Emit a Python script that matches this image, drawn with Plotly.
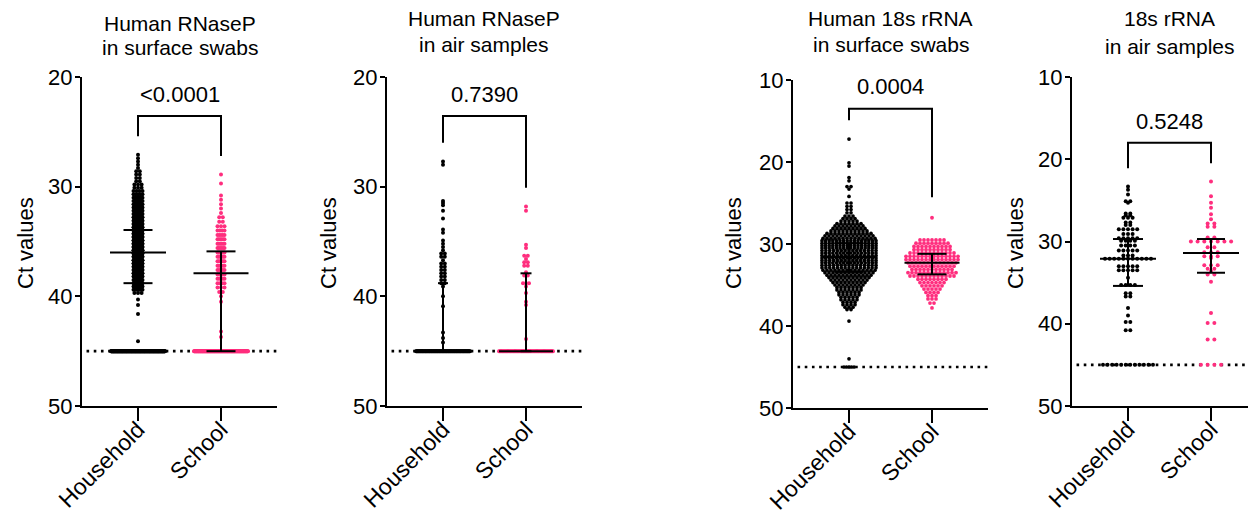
import plotly.graph_objects as go

# ---------------- data ----------------
groups = ["Household", "School"]

titles = ["Human RNaseP<br>in surface swabs", "Human RNaseP<br>in air samples",
          "Human 18s rRNA<br>in surface swabs", "18s rRNA<br>in air samples"]
p_values = ["<0.0001", "0.7390", "0.0004", "0.5248"]

# Panel 1: RNaseP, surface swabs  (Ct value rows and number of dots per row)
p1_household_ct = [27.1, 27.4, 27.7, 28.0, 28.3, 28.6, 28.9, 29.2, 29.5, 29.8, 30.1, 30.4, 30.7, 31.0,
                   31.3, 31.6, 31.9, 32.2, 32.5, 32.8, 33.1, 33.4, 33.7, 34.0, 34.3, 34.6, 34.9, 35.2,
                   35.5, 35.8, 36.1, 36.4, 36.7, 37.0, 37.3, 37.6, 37.9, 38.2, 38.5, 38.8, 39.1, 39.4,
                   39.7, 40.3, 40.8, 41.6, 44.1, 45.0]
p1_household_n = [1, 1, 1, 1, 1, 2, 2, 2, 2, 3, 3, 4, 5, 6,
                  8, 10, 12, 16, 20, 24, 28, 32, 36, 40, 44, 46, 48, 50,
                  50, 48, 46, 44, 42, 38, 34, 30, 26, 22, 18, 14, 10, 6,
                  3, 1, 1, 1, 1, 220]
p1_school_ct = [28.9, 29.7, 30.8, 31.2, 31.6, 32.0, 32.4, 32.8, 33.2, 33.6, 34.0, 34.4, 34.8, 35.2,
                35.6, 36.0, 36.4, 36.8, 37.2, 37.6, 38.0, 38.4, 38.8, 39.2, 39.6, 40.0, 40.5, 43.2,
                43.7, 45.0]
p1_school_n = [1, 1, 1, 1, 1, 1, 1, 2, 2, 3, 4, 5, 6, 6,
               6, 6, 6, 6, 6, 5, 5, 5, 4, 3, 2, 1, 1, 1,
               1, 150]

# Panel 2: RNaseP, air samples
p2_household_ct = [27.7, 28.0, 31.3, 31.5, 31.7, 32.2, 32.9, 33.9, 34.2, 34.9, 35.2, 35.5, 35.8, 36.1,
                   36.4, 36.7, 37.0, 37.3, 37.6, 37.9, 38.2, 38.5, 38.8, 39.1, 40.0, 40.9, 43.3, 43.8,
                   44.2, 45.0]
p2_household_n = [1, 1, 1, 1, 1, 1, 1, 1, 1, 1, 1, 1, 1, 2,
                  2, 1, 2, 2, 2, 2, 2, 2, 2, 1, 1, 1, 1, 1,
                  1, 90]
p2_school_ct = [31.8, 32.2, 35.3, 35.6, 36.3, 36.6, 36.9, 37.2, 37.8, 38.1, 38.8, 39.1, 39.7, 40.5,
                40.8, 43.9, 45.0]
p2_school_n = [1, 1, 1, 1, 2, 1, 2, 2, 1, 2, 3, 1, 1, 1,
               1, 1, 60]

# Panel 3: 18s rRNA, surface swabs
p3_household_ct = [17.2, 20.1, 20.5, 21.9, 22.3, 23.0, 23.3, 24.2, 25.0, 25.4, 25.8, 26.2, 26.6, 26.9,
                   27.2, 27.5, 27.8, 28.1, 28.4, 28.7, 29.0, 29.3, 29.6, 29.9, 30.2, 30.5, 30.8, 31.1,
                   31.4, 31.7, 32.0, 32.3, 32.6, 32.9, 33.2, 33.5, 33.8, 34.1, 34.4, 34.7, 35.0, 35.3,
                   35.6, 35.9, 36.2, 36.5, 36.8, 37.1, 37.4, 37.7, 38.0, 39.4, 44.0, 45.0]
p3_household_n = [1, 1, 1, 1, 1, 2, 1, 1, 2, 2, 2, 2, 3, 4,
                  5, 7, 8, 9, 10, 12, 13, 14, 16, 16, 16, 16, 15, 16,
                  15, 16, 15, 16, 15, 15, 14, 13, 12, 11, 10, 9, 8, 7,
                  7, 6, 6, 5, 5, 4, 4, 3, 2, 1, 1, 5]
p3_school_ct = [26.8, 29.5, 29.9, 30.3, 30.7, 31.1, 31.5, 31.9, 32.3, 32.7, 33.1, 33.5, 33.9, 34.3,
                34.7, 35.1, 35.5, 35.9, 36.3, 36.7, 37.2, 37.8]
p3_school_n = [1, 7, 9, 10, 10, 12, 14, 14, 13, 12, 11, 13, 12, 8,
               7, 6, 5, 4, 3, 3, 2, 1]

# Panel 4: 18s rRNA, air samples
p4_household_ct = [23.3, 23.7, 24.3, 25.1, 25.3, 26.6, 26.8, 27.1, 27.7, 28.0, 28.5, 29.1, 29.6, 29.9,
                   30.5, 31.1, 31.7, 32.1, 33.0, 33.5, 34.4, 35.3, 36.3, 36.7, 38.1, 39.0, 39.8, 40.8,
                   45.0]
p4_household_n = [1, 1, 1, 2, 1, 2, 2, 3, 2, 2, 5, 3, 5, 4,
                  4, 5, 3, 11, 5, 5, 1, 4, 2, 2, 1, 1, 2, 2,
                  12]
p4_school_ct = [22.7, 24.5, 25.3, 25.9, 26.7, 27.3, 27.8, 28.2, 29.5, 30.0, 30.7, 31.3, 31.8, 32.0,
                32.9, 33.3, 33.6, 34.0, 34.9, 38.7, 39.9, 41.9, 45.0]
p4_school_n = [1, 1, 1, 1, 1, 1, 2, 2, 2, 7, 2, 3, 3, 1,
               3, 2, 1, 2, 1, 1, 2, 2, 4]

# median and interquartile range lines (Ct), [household, school] per panel
median_ct = [[36.0, 37.9], [45.0, 45.0], [31.6, 32.3], [32.1, 31.4]]
q_upper_ct = [[33.95, 35.9], [38.8, 37.9], [29.9, 31.2], [29.7, 29.7]]
q_lower_ct = [[38.8, 45.0], [45.0, 45.0], [33.4, 33.7], [35.4, 33.8]]

# significance brackets: (top, household leg end, school leg end), p-label Ct
bracket_ct = [[23.55, 25.4, 27.2], [23.55, 26.0, 30.1], [13.5, 14.9, 24.3], [18.0, 21.1, 20.5]]
p_label_ct = [21.55, 21.55, 10.85, 15.35]

limit_ct = 45.0  # limit of detection (dotted line)
y_ticks = [[20, 30, 40, 50], [20, 30, 40, 50], [10, 20, 30, 40, 50], [10, 20, 30, 40, 50]]

# ---------------- styling / layout ----------------
W, H = 1256, 521          # browser window
OFF = 8                   # default page margin around the plot div
FW, FH = W - OFF, H - OFF  # figure size
PX_PER_UNIT = 83.0
BLACK = "#000000"
PINK = "#ff2e7e"
FONT = "Liberation Sans, Arial, Helvetica, sans-serif"


def px_x(px):
    return (px - OFF) / FW


def px_y(py):
    return 1 - (py - OFF) / FH


# pixel geometry (window pixels) of each panel: x0, x1 (axis line), y_top, y_bottom
panel_px = [(82, 277, 77, 406), (387, 582, 77, 406), (793, 988, 80, 408), (1072, 1256, 77, 406)]
y_top = [20, 20, 10, 10]
title_line_px = [(23.5, 47.5), (19, 44), (19, 44), (19, 46)]
ct_label_x_px = [26, 329, 734, 1016]

# per group swarm style: (dot spacing px, max half width px, floor half width px, dot size)
swarm_style = [
    [(3.6, 4.5, 27.0, 4), (3.6, 3.5, 27.0, 4)],
    [(3.6, 3.0, 27.0, 4), (3.6, 3.0, 27.0, 4)],
    [(4.0, 27.0, 5.0, 3.7), (4.0, 27.0, 27.0, 3.8)],
    [(4.6, 30.0, 25.0, 4), (6.7, 30.0, 27.0, 4)],
]
cap_half_px = [[14.5, 14.5], [5.0, 5.5], [14.5, 14.5], [15.0, 14.0]]
median_half_px = [[28.0, 27.5], [27.0, 27.0], [27.5, 27.5], [28.0, 28.0]]

panel_data = [
    [(p1_household_ct, p1_household_n), (p1_school_ct, p1_school_n)],
    [(p2_household_ct, p2_household_n), (p2_school_ct, p2_school_n)],
    [(p3_household_ct, p3_household_n), (p3_school_ct, p3_school_n)],
    [(p4_household_ct, p4_household_n), (p4_school_ct, p4_school_n)],
]
colors = [BLACK, PINK]


def swarm(center, cts, ns, spacing, cap, floor_cap):
    xs, ys = [], []
    for v, n in zip(cts, ns):
        c = floor_cap if v == limit_ct else cap
        s = spacing
        if n > 1 and (n - 1) * s / 2 > c:
            s = 2 * c / (n - 1)
        for i in range(n):
            xs.append(center + (i - (n - 1) / 2) * s / PX_PER_UNIT)
            ys.append(v)
    return xs, ys


fig = go.Figure()
annotations = []

for p in range(4):
    x0, x1, yt, yb = panel_px[p]
    suffix = "" if p == 0 else str(p + 1)
    xref, yref = "x" + suffix, "y" + suffix
    left = -(138 - 82) / PX_PER_UNIT
    x1_vis = min(x1, W)
    right = left + (x1_vis - x0) / PX_PER_UNIT

    # dotted limit line
    fig.add_trace(go.Scatter(x=[-0.62, right], y=[limit_ct, limit_ct], mode="lines",
                             line=dict(color=BLACK, width=2.6, dash="2.6px,4.6px"),
                             xaxis=xref, yaxis=yref, hoverinfo="skip", showlegend=False))
    # dots
    for g in range(2):
        cts, ns = panel_data[p][g]
        sp, cap, fcap, msize = swarm_style[p][g]
        xs, ys = swarm(g, cts, ns, sp, cap, fcap)
        fig.add_trace(go.Scatter(x=xs, y=ys, mode="markers",
                                 marker=dict(color=colors[g], size=msize, line=dict(width=0)),
                                 xaxis=xref, yaxis=yref, showlegend=False, name=groups[g]))
    # median + IQR
    for g in range(2):
        mh = median_half_px[p][g] / PX_PER_UNIT
        ch = cap_half_px[p][g] / PX_PER_UNIT
        m, qu, ql = median_ct[p][g], q_upper_ct[p][g], q_lower_ct[p][g]
        xs = [g - mh, g + mh, None, g, g, None, g - ch, g + ch, None, g - ch, g + ch]
        ys = [m, m, None, qu, ql, None, qu, qu, None, ql, ql]
        fig.add_trace(go.Scatter(x=xs, y=ys, mode="lines", line=dict(color=BLACK, width=2),
                                 xaxis=xref, yaxis=yref, hoverinfo="skip", showlegend=False))
    # bracket
    top, lh, ls = bracket_ct[p]
    fig.add_trace(go.Scatter(x=[0, 0, 1, 1], y=[lh, top, top, ls], mode="lines",
                             line=dict(color=BLACK, width=2),
                             xaxis=xref, yaxis=yref, hoverinfo="skip", showlegend=False))
    annotations.append(dict(x=0.5, y=p_label_ct[p], xref=xref, yref=yref, text=p_values[p],
                            showarrow=False, font=dict(size=22, color=BLACK, family=FONT),
                            xanchor="center", yanchor="middle"))

    # axes
    fig.update_layout(**{
        "xaxis" + suffix: dict(domain=[px_x(x0), min(px_x(x1_vis), 1.0)], range=[left, right],
                               anchor=yref, showline=True, linecolor=BLACK, linewidth=2,
                               ticks="outside", ticklen=13, tickwidth=2, tickcolor=BLACK,
                               tickvals=[0, 1], ticktext=groups, tickangle=-45, automargin=False,
                               ticklabelstandoff=-14,
                               tickfont=dict(size=23, color=BLACK, family=FONT),
                               showgrid=False, zeroline=False, fixedrange=True),
        "yaxis" + suffix: dict(domain=[px_y(yb), px_y(yt)], range=[50, y_top[p]], anchor=xref,
                               showline=True, linecolor=BLACK, linewidth=2, ticks="outside",
                               ticklen=5, tickwidth=2, tickcolor=BLACK, tickvals=y_ticks[p],
                               automargin=False, ticklabelstandoff=-2,
                               tickfont=dict(size=22, color=BLACK, family=FONT),
                               showgrid=False, zeroline=False, fixedrange=True),
    })

    # title lines
    cx = x0 + 195 / 2
    l1, l2 = titles[p].split("<br>")
    for txt, py in zip((l1, l2), title_line_px[p]):
        annotations.append(dict(x=px_x(cx), y=px_y(py), xref="paper", yref="paper", text=txt,
                                showarrow=False, font=dict(size=21, color=BLACK, family=FONT),
                                xanchor="center", yanchor="middle"))
    annotations.append(dict(x=px_x(ct_label_x_px[p]), y=px_y(243), xref="paper", yref="paper",
                            text="Ct values", textangle=-90, showarrow=False,
                            font=dict(size=22, color=BLACK, family=FONT),
                            xanchor="center", yanchor="middle"))

fig.update_layout(width=FW, height=FH, margin=dict(l=0, r=0, t=0, b=0),
                  paper_bgcolor="white", plot_bgcolor="white", showlegend=False,
                  annotations=annotations, font=dict(family=FONT, color=BLACK))

fig.write_html("out.html")
